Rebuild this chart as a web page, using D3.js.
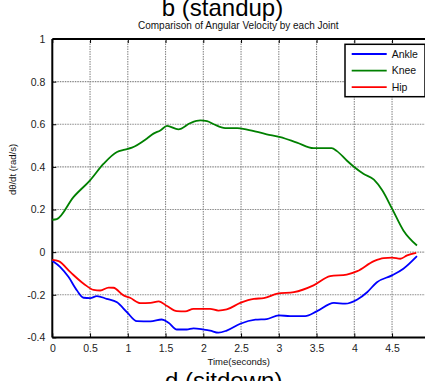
<!DOCTYPE html>
<html>
<head>
<meta charset="utf-8">
<script src="https://cdn.jsdelivr.net/npm/d3@7"></script>
<style>
  html, body { margin: 0; padding: 0; background: #fff; overflow: hidden; }
  svg { display: block; font-family: Arial, "Liberation Sans", Helvetica, sans-serif; }
</style>
</head>
<body>
<svg id="chart" width="425" height="381"></svg>
<script>
// Angular velocity of each joint during the stand-up motion (rad/s vs seconds)
const ankleT = [0, 0.106, 0.216, 0.327, 0.415, 0.503, 0.59, 0.72, 0.857, 0.99, 1.12, 1.3, 1.45, 1.54, 1.65, 1.78, 1.87, 2.0, 2.09, 2.2, 2.31, 2.49, 2.69, 2.84, 3.0, 3.15, 3.35, 3.5, 3.73, 3.88, 4.04, 4.17, 4.3, 4.5, 4.65, 4.83];
const ankleV = [-0.04, -0.07, -0.117, -0.18, -0.214, -0.216, -0.206, -0.219, -0.235, -0.282, -0.324, -0.325, -0.316, -0.331, -0.363, -0.363, -0.358, -0.363, -0.368, -0.378, -0.368, -0.336, -0.317, -0.314, -0.297, -0.3, -0.3, -0.278, -0.238, -0.242, -0.222, -0.188, -0.141, -0.109, -0.078, -0.019];

const kneeT = [0, 0.06, 0.28, 0.5, 0.68, 0.857, 0.944, 1.055, 1.25, 1.34, 1.43, 1.52, 1.67, 1.83, 1.96, 2.05, 2.14, 2.29, 2.45, 2.58, 2.84, 3.02, 3.24, 3.46, 3.7, 3.77, 3.9, 3.99, 4.12, 4.26, 4.37, 4.5, 4.65, 4.83];
const kneeV = [0.152, 0.155, 0.258, 0.337, 0.415, 0.47, 0.48, 0.49, 0.532, 0.556, 0.571, 0.592, 0.576, 0.606, 0.618, 0.615, 0.6, 0.582, 0.582, 0.575, 0.553, 0.54, 0.514, 0.488, 0.488, 0.474, 0.43, 0.402, 0.368, 0.34, 0.29, 0.204, 0.102, 0.031];

const hipT = [0, 0.083, 0.24, 0.415, 0.547, 0.636, 0.746, 0.81, 0.944, 1.03, 1.166, 1.3, 1.41, 1.52, 1.65, 1.76, 1.87, 2.09, 2.2, 2.31, 2.49, 2.67, 2.8, 2.98, 3.2, 3.46, 3.68, 3.9, 4.04, 4.26, 4.39, 4.5, 4.61, 4.7, 4.82];
const hipV = [-0.036, -0.042, -0.094, -0.148, -0.177, -0.18, -0.166, -0.167, -0.203, -0.214, -0.239, -0.238, -0.231, -0.253, -0.277, -0.278, -0.266, -0.266, -0.274, -0.269, -0.238, -0.219, -0.216, -0.195, -0.188, -0.156, -0.113, -0.105, -0.089, -0.042, -0.028, -0.026, -0.031, -0.015, -0.003];

const seriesNames = ["Ankle", "Knee", "Hip"];
const seriesColors = ["#0000ff", "#008000", "#ff0000"];
const xTicks = [0, 0.5, 1, 1.5, 2, 2.5, 3, 3.5, 4, 4.5, 5];
const xTickLabels = ["0", "0.5", "1", "1.5", "2", "2.5", "3", "3.5", "4", "4.5", ""];
const yTicks = [-0.4, -0.2, 0, 0.2, 0.4, 0.6, 0.8, 1];
const yTickLabels = ["-0.4", "-0.2", "0", "0.2", "0.4", "0.6", "0.8", "1"];

const svg = d3.select("#chart");

const x = d3.scaleLinear().domain([0, 5]).range([52.3, 429.8]);
const y = d3.scaleLinear().domain([-0.4, 1]).range([337.4, 39]);
const x0 = x.range()[0], x1 = x.range()[1];
const y0 = y.range()[0], y1 = y.range()[1];

// grid
const grid = svg.append("g").attr("stroke", "#8a8a8a").attr("stroke-width", 1.1).attr("stroke-dasharray", "1.5,1");
grid.selectAll("line.gx").data(xTicks.slice(1)).join("line")
  .attr("x1", d => x(d)).attr("x2", d => x(d)).attr("y1", y0).attr("y2", y1);
grid.selectAll("line.gy").data(yTicks.slice(1, -1)).join("line")
  .attr("x1", x0).attr("x2", x1).attr("y1", d => y(d)).attr("y2", d => y(d));

// axes (ticks pointing inward, mirrored on top and right)
const axisB = svg.append("g").attr("transform", `translate(0,${y0})`)
  .call(d3.axisBottom(x).tickValues(xTicks).tickSize(-4).tickPadding(7)
    .tickFormat((d, i) => xTickLabels[i]));
const axisT = svg.append("g").attr("transform", `translate(0,${y1})`)
  .call(d3.axisTop(x).tickValues(xTicks).tickSize(-4).tickFormat(""));
const axisL = svg.append("g").attr("transform", `translate(${x0},0)`)
  .call(d3.axisLeft(y).tickValues(yTicks).tickSize(-4).tickPadding(7)
    .tickFormat((d, i) => yTickLabels[i]));
const axisR = svg.append("g").attr("transform", `translate(${x1},0)`)
  .call(d3.axisRight(y).tickValues(yTicks).tickSize(-4).tickFormat(""));

[axisB, axisT, axisL, axisR].forEach(g => {
  g.select(".domain").attr("stroke", "#000").attr("stroke-width", 2);
  g.selectAll(".tick line").attr("stroke", "#000").attr("stroke-width", 1);
  g.selectAll(".tick text").attr("fill", "#222").attr("font-size", 10.5)
    .attr("font-family", "Arial, 'Liberation Sans', sans-serif");
});
axisB.select(".domain").attr("d", `M${x0},0H${x1}`);
axisT.select(".domain").attr("d", `M${x0},0H${x1}`);
axisL.select(".domain").attr("d", `M0,${y0}V${y1}`);
axisR.select(".domain").attr("d", `M0,${y0}V${y1}`);

// lines
const series = [
  { t: ankleT, v: ankleV },
  { t: kneeT, v: kneeV },
  { t: hipT, v: hipV }
];
const line = d3.line().x(d => x(d[0])).y(d => y(d[1])).curve(d3.curveMonotoneX);
series.forEach((s, i) => {
  svg.append("path")
    .datum(s.t.map((t, j) => [t, s.v[j]]))
    .attr("fill", "none")
    .attr("stroke", seriesColors[i])
    .attr("stroke-width", 1.8)
    .attr("stroke-linejoin", "round")
    .attr("d", line);
});

// legend
const leg = svg.append("g");
leg.append("rect").attr("x", 345).attr("y", 44.3).attr("width", 80).attr("height", 52.4)
  .attr("fill", "#fff").attr("stroke", "#000").attr("stroke-width", 1.5);
seriesNames.forEach((name, i) => {
  const ly = 54 + i * 16.6;
  leg.append("line").attr("x1", 351.7).attr("x2", 386.7).attr("y1", ly).attr("y2", ly)
    .attr("stroke", seriesColors[i]).attr("stroke-width", 1.8);
  leg.append("text").attr("x", 391.7).attr("y", ly + 3.8).attr("font-size", 10.5)
    .attr("fill", "#111").text(name);
});

// titles and labels
svg.append("text").attr("x", 222.5).attr("y", 15.5).attr("text-anchor", "middle")
  .attr("font-size", 24).attr("fill", "#000").text("b (standup)");
svg.append("text").attr("x", 238.3).attr("y", 28.5).attr("text-anchor", "middle")
  .attr("font-size", 10).attr("fill", "#111").text("Comparison of Angular Velocity by each Joint");
svg.append("text").attr("x", 238.8).attr("y", 365).attr("text-anchor", "middle")
  .attr("font-size", 9.5).attr("fill", "#111").text("Time(seconds)");
svg.append("text").attr("transform", "translate(15.5,169.5) rotate(-90)").attr("text-anchor", "middle")
  .attr("font-size", 9.5).attr("fill", "#111").text("dθ/dt (rad/s)");
svg.append("text").attr("x", 223.7).attr("y", 389).attr("text-anchor", "middle")
  .attr("font-size", 24).attr("fill", "#000").text("d (sitdown)");
</script>
</body>
</html>
